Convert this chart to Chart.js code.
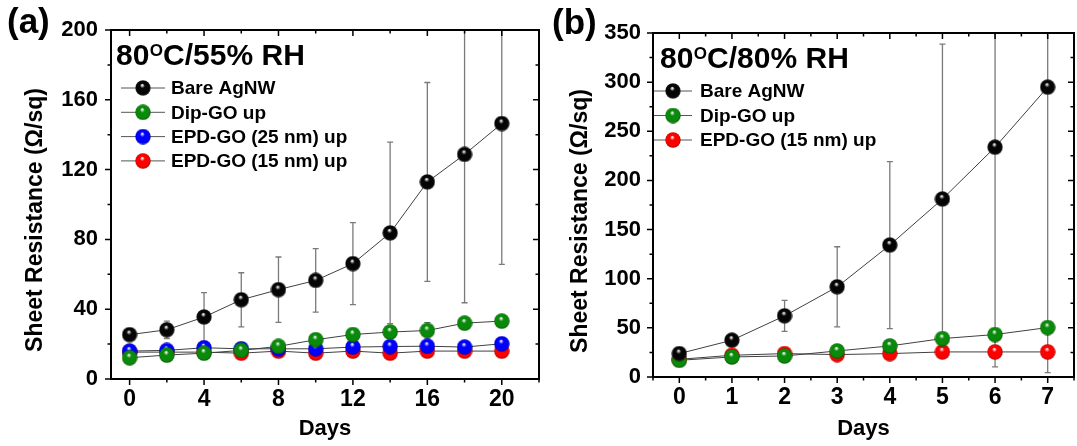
<!DOCTYPE html>
<html>
<head>
<meta charset="utf-8">
<script src="https://cdn.jsdelivr.net/npm/chart.js@4.4.0/dist/chart.umd.min.js"></script>
<style>
  html, body { margin: 0; padding: 0; background: #fff; overflow: hidden; }
  #wrapA { position: absolute; left: 0; top: 0; }
  #wrapB { position: absolute; left: 548px; top: 0; }
</style>
</head>
<body>
<div id="wrapA"><canvas id="chartA" width="548" height="446"></canvas></div>
<div id="wrapB"><canvas id="chartB" width="535" height="446"></canvas></div>
<script>
// panel (a): 80C / 55% RH
const daysA = [0, 2, 4, 6, 8, 10, 12, 14, 16, 18, 20];
const bareA = [25.4, 28.2, 35.5, 45.4, 51.2, 56.5, 66.1, 83.7, 112.9, 128.7, 146.4];
const bareErrA = [1, 5, 14, 15.5, 18.7, 18.2, 23.5, 52, 57, 85, 80.7];
const dipA = [12.2, 13.7, 14.8, 16.4, 18.7, 22.5, 25.5, 26.9, 27.8, 32.0, 33.2];
const dipErrA = [1, 1, 1, 1, 1, 1, 1, 1, 4.5, 1, 1];
const epd25A = [16.0, 16.4, 17.9, 17.3, 17.3, 17.3, 18.3, 18.6, 18.8, 18.3, 20.2];
const epd15A = [15.4, 15.4, 15.4, 14.8, 16.0, 14.8, 16.0, 14.8, 16.0, 16.0, 16.0];
const xTicksA = [0, 4, 8, 12, 16, 20];
const yTicksA = [0, 40, 80, 120, 160, 200];

// panel (b): 80C / 80% RH
const daysB = [0, 1, 2, 3, 4, 5, 6, 7];
const bareB = [23.8, 37.4, 62.2, 91.7, 134.2, 181.1, 233.8, 294.9];
const bareErrB = [2, 3, 15.8, 40.8, 85, 157.5, 223.6, 290.4];
const dipB = [17.0, 20.4, 21.4, 26.5, 31.6, 39.1, 43.2, 50.3];
const epd15B = [18.0, 22.1, 23.8, 22.8, 23.8, 25.5, 25.5, 25.5];
const xTicksB = [0, 1, 2, 3, 4, 5, 6, 7];
const yTicksB = [0, 50, 100, 150, 200, 250, 300, 350];

const condA = ["80", "O", "C/55% RH"];
const condB = ["80", "O", "C/80% RH"];
const yTitle = "Sheet Resistance (\u03A9/sq)";

const fam = "'Liberation Sans', Arial, sans-serif";
Chart.defaults.font.family = fam;
Chart.defaults.color = "#000";

function ball(fill, shade) {
  const c = document.createElement("canvas");
  c.width = 16;
  c.height = 16;
  const g = c.getContext("2d");
  const grad = g.createRadialGradient(7.2, 5, 0.3, 8, 8, 8);
  grad.addColorStop(0, "#ffffff");
  grad.addColorStop(0.28, fill);
  grad.addColorStop(0.8, fill);
  grad.addColorStop(1, shade);
  g.fillStyle = grad;
  g.beginPath();
  g.arc(8, 8, 7.7, 0, Math.PI * 2);
  g.fill();
  return c;
}

const balls = {
  black: ball("#050505", "#3a3a3a"),
  green: ball("#0a8a0a", "#045004"),
  blue: ball("#0000ff", "#00009a"),
  red: ball("#ff0000", "#a00000")
};

function pts(xs, ys) {
  return xs.map((x, i) => ({ x: x, y: ys[i] }));
}

function series(label, xs, ys, img, errs) {
  return {
    label: label,
    data: pts(xs, ys),
    errors: errs,
    borderColor: "#404040",
    borderWidth: 1,
    pointStyle: img,
    pointRadius: 8,
    tension: 0
  };
}

const axisFrame = {
  id: "axisFrame",
  beforeDatasetsDraw(chart) {
    const { ctx, chartArea: a, scales: { x, y } } = chart;
    ctx.save();
    ctx.beginPath();
    ctx.rect(a.left, a.top, a.right - a.left, a.bottom - a.top);
    ctx.clip();
    ctx.strokeStyle = "#7a7a7a";
    ctx.lineWidth = 1.3;
    chart.data.datasets.forEach(ds => {
      if (!ds.errors) return;
      ds.data.forEach((p, i) => {
        const e = ds.errors[i];
        if (!e) return;
        const px = x.getPixelForValue(p.x);
        const y1 = y.getPixelForValue(p.y + e);
        const y2 = y.getPixelForValue(p.y - e);
        ctx.beginPath();
        ctx.moveTo(px, y1); ctx.lineTo(px, y2);
        ctx.moveTo(px - 3, y1); ctx.lineTo(px + 3, y1);
        ctx.moveTo(px - 3, y2); ctx.lineTo(px + 3, y2);
        ctx.stroke();
      });
    });
    ctx.restore();
  },
  afterDraw(chart, args, o) {
    const { ctx, chartArea: a, scales: { x, y } } = chart;
    ctx.save();
    ctx.strokeStyle = "#000";
    ctx.lineWidth = 2;
    ctx.strokeRect(a.left, a.top, a.right - a.left, a.bottom - a.top);

    // tick marks, majors where a label sits
    ctx.lineWidth = 1.5;
    const each = (scale, step, majors, fn) => {
      const k0 = Math.ceil(scale.min / step), k1 = Math.floor(scale.max / step);
      for (let k = k0; k <= k1; k++) {
        const v = k * step;
        const big = majors.some(m => Math.abs(m - v) < 1e-6);
        fn(scale.getPixelForValue(v), big ? 6 : 3.5);
      }
    };
    ctx.beginPath();
    each(x, o.xMinor, o.xMajor, (p, l) => {
      ctx.moveTo(p, a.bottom); ctx.lineTo(p, a.bottom + l);
      ctx.moveTo(p, a.top); ctx.lineTo(p, a.top + l);
    });
    each(y, o.yMinor, o.yMajor, (p, l) => {
      ctx.moveTo(a.left, p); ctx.lineTo(a.left - l, p);
      ctx.moveTo(a.right, p); ctx.lineTo(a.right - l, p);
    });
    ctx.stroke();

    // legend inside the plot
    const lg = o.legend;
    ctx.font = "bold 19px " + fam;
    ctx.textBaseline = "middle";
    ctx.textAlign = "left";
    chart.data.datasets.forEach((ds, i) => {
      const cy = lg.y + i * lg.dy;
      ctx.strokeStyle = "#555";
      ctx.lineWidth = 1;
      ctx.beginPath();
      ctx.moveTo(lg.x - lg.half, cy); ctx.lineTo(lg.x + lg.half, cy);
      ctx.stroke();
      ctx.drawImage(ds.pointStyle, lg.x - 8, cy - 8);
      ctx.fillStyle = "#000";
      ctx.fillText(ds.label, lg.x + lg.gap, cy + 1);
    });

    // condition text with superscript
    const c = o.cond, cp = o.condPos;
    ctx.textBaseline = "alphabetic";
    let cx = cp.x;
    ctx.font = "bold 30px " + fam;
    ctx.fillText(c[0], cx, cp.y);
    cx += ctx.measureText(c[0]).width + 0.5;
    ctx.font = "bold 17px " + fam;
    ctx.fillText(c[1], cx, cp.y - 9);
    cx += ctx.measureText(c[1]).width;
    ctx.font = "bold 30px " + fam;
    ctx.fillText(c[2], cx, cp.y);

    // panel letter
    ctx.font = "bold 35px " + fam;
    ctx.fillText(o.panel, o.panelPos.x, o.panelPos.y);

    // y title
    ctx.translate(o.yTitlePos.x, o.yTitlePos.y);
    ctx.rotate(-Math.PI / 2);
    ctx.font = "bold 23px " + fam;
    ctx.textAlign = "center";
    ctx.textBaseline = "middle";
    ctx.fillText(yTitle, 0, 0);
    ctx.restore();
  }
};

function makeScales(xMin, xMax, xTicks, yMax, yTicks, yWidth, xHeight, yPad) {
  return {
    x: {
      type: "linear",
      min: xMin,
      max: xMax,
      afterBuildTicks: s => { s.ticks = xTicks.map(v => ({ value: v })); },
      afterFit: s => { s.height = xHeight; },
      grid: { display: false, drawTicks: false },
      border: { display: false },
      ticks: { font: { size: 23, weight: "bold" }, padding: 7, maxRotation: 0, autoSkip: false },
      title: { display: true, text: "Days", font: { size: 22, weight: "bold" }, padding: { top: 0, bottom: 4 } }
    },
    y: {
      min: 0,
      max: yMax,
      afterBuildTicks: s => { s.ticks = yTicks.map(v => ({ value: v })); },
      afterFit: s => { s.width = yWidth; },
      grid: { display: false, drawTicks: false },
      border: { display: false },
      ticks: { font: { size: 22, weight: "bold" }, padding: yPad, autoSkip: false }
    }
  };
}

const configA = {
  type: "line",
  data: {
    datasets: [
      series("Bare AgNW", daysA, bareA, balls.black, bareErrA),
      series("Dip-GO up", daysA, dipA, balls.green, dipErrA),
      series("EPD-GO (25 nm) up", daysA, epd25A, balls.blue),
      series("EPD-GO (15 nm) up", daysA, epd15A, balls.red)
    ]
  },
  options: {
    responsive: false,
    animation: false,
    events: [],
    layout: { padding: { top: 30, right: 4, left: 0, bottom: 0 } },
    scales: makeScales(-1, 22, xTicksA, 200, yTicksA, 111, 67, 13),
    plugins: {
      legend: { display: false },
      tooltip: { enabled: false },
      axisFrame: {
        xMinor: 2, yMinor: 20, xMajor: xTicksA, yMajor: yTicksA,
        legend: { x: 143, y: 88, dy: 24.3, half: 22, gap: 28 },
        cond: condA, condPos: { x: 116, y: 65 },
        panel: "(a)", panelPos: { x: 7, y: 33 },
        yTitlePos: { x: 36, y: 220 }
      }
    }
  },
  plugins: [axisFrame]
};

const chartA = new Chart(document.getElementById("chartA"), configA);

const configB = {
  type: "line",
  data: {
    datasets: [
      series("Bare AgNW", daysB, bareB, balls.black, bareErrB),
      series("Dip-GO up", daysB, dipB, balls.green),
      series("EPD-GO (15 nm) up", daysB, epd15B, balls.red)
    ]
  },
  options: {
    responsive: false,
    animation: false,
    events: [],
    layout: { padding: { top: 33, right: 3, left: 0, bottom: 0 } },
    scales: makeScales(-0.5, 7.5, xTicksB, 350, yTicksB, 105, 69, 12),
    plugins: {
      legend: { display: false },
      tooltip: { enabled: false },
      axisFrame: {
        xMinor: 0.5, yMinor: 25, xMajor: xTicksB, yMajor: yTicksB,
        legend: { x: 125, y: 91, dy: 24.5, half: 19, gap: 27 },
        cond: condB, condPos: { x: 112, y: 68 },
        panel: "(b)", panelPos: { x: 4, y: 34 },
        yTitlePos: { x: 33, y: 221 }
      }
    }
  },
  plugins: [axisFrame]
};

const chartB = new Chart(document.getElementById("chartB"), configB);
</script>
</body>
</html>
